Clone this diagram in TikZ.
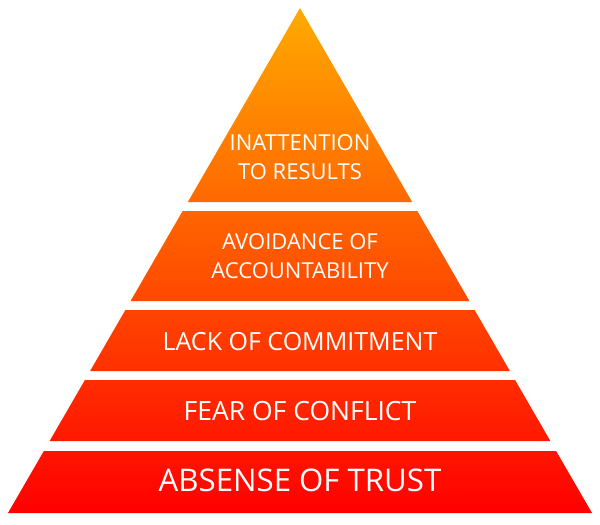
\documentclass[tikz,border=0pt]{standalone}
\usepackage{fontspec}
\setmainfont{Open Sans}
\definecolor{ptop}{RGB}{255,170,0}
\definecolor{pmid}{RGB}{255,88,0}
\definecolor{pbot}{RGB}{255,0,0}
\tikzset{
  label/.style={text=white, align=center, inner sep=0pt, anchor=center},
  small/.style={label, font=\fontsize{22}{29}\selectfont},
  mid/.style={label, font=\fontsize{25}{30}\selectfont},
  wide/.style={label, font=\fontsize{26.5}{31}\selectfont},
  big/.style={label, font=\fontsize{31.2}{36}\selectfont}
}
\begin{document}
\begin{tikzpicture}[x=1pt,y=-1pt]
\useasboundingbox (0,0) rectangle (600,525);
\foreach \ya/\yb in {8/202,211/301,310/371,380/441,451/513}{
  \pgfmathsetmacro\ha{0.5782*(\ya-8)}
  \pgfmathsetmacro\hb{0.5782*(\yb-8)}
  \begin{scope}
    \clip (300-\ha,\ya) -- (300+\ha,\ya) -- (300+\hb,\yb) -- (300-\hb,\yb) -- cycle;
    \shade[top color=ptop, middle color=pmid, bottom color=pbot] (0,8) rectangle (600,513);
  \end{scope}
}
\node[small] (l1) at (300,157) {INATTENTION\\TO RESULTS};
\node[small] (l2) at (300,256) {AVOIDANCE OF\\ACCOUNTABILITY};
\node[mid] (l3) at (300,342) {LACK OF COMMITMENT};
\node[wide] (l4) at (300,411) {FEAR OF CONFLICT};
\node[big] (l5) at (300,480) {ABSENSE OF TRUST};
\end{tikzpicture}
\end{document}
